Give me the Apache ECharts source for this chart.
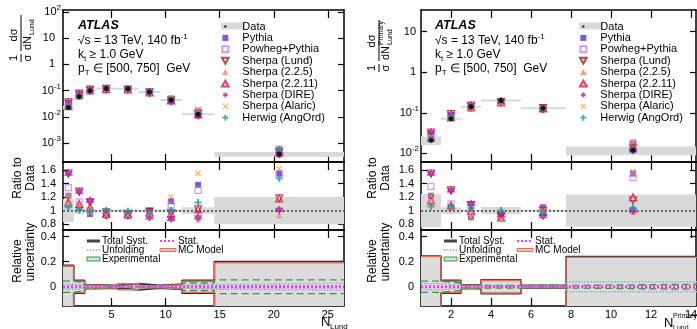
<!DOCTYPE html>
<html>
<head>
<meta charset="utf-8">
<script src="https://cdn.jsdelivr.net/npm/echarts@6/dist/echarts.min.js"></script>
<style>
html, body { margin: 0; padding: 0; background: #fff; }
#chart { width: 697px; height: 329px; }
</style>
</head>
<body>
<div id="chart"></div>
<script>
var FONT = 'Liberation Sans, Arial, Helvetica, sans-serif';

// ---- left: N_Lund ----
var edgesL = [0.5, 1.5, 2.5, 3.5, 5.5, 7.5, 9.5, 11.5, 14.5, 26.5];
var xL = [1, 2, 3, 4.5, 6.5, 8.5, 10.5, 13, 20.5];
var dataL = [0.023, 0.060, 0.099, 0.12, 0.118, 0.089, 0.044, 0.0125, 0.00038];
// ratio to data
var pythiaL  = [1.22, 1.05, 0.95, 0.95, 0.95, 1.00, 1.14, 1.38, 1.55];
var powhegL  = [1.34, 1.13, 1.00, 0.98, 0.96, 1.00, 1.08, 1.30, 1.55];
var lundL    = [1.55, 1.28, 1.12, 0.97, 0.94, 0.98, 0.96, 1.02, 1.18];
var s225L    = [1.15, 1.10, 1.05, 0.92, 0.93, 0.96, 0.90, 0.87, 0.93];
var s2211L   = [1.12, 1.10, 1.05, 0.95, 0.94, 0.97, 0.96, 1.02, 1.18];
var direL    = [1.55, 1.28, 1.15, 0.93, 0.93, 0.90, 0.88, 0.90, 1.01];
var alaricL  = [1.22, 1.05, 0.97, 0.93, 0.93, 0.95, 1.20, 1.55, 1.62];
var herwigL  = [1.05, 1.01, 0.99, 1.00, 0.99, 0.97, 1.00, 1.12, 1.48];
// relative uncertainties
var totL  = [0.17, 0.05, 0.015, 0.01, 0.025, 0.01, 0.02, 0.05, 0.2];
var mcL   = [0.165, 0.045, 0.012, 0.008, 0.024, 0.008, 0.017, 0.045, 0.19];
var expL  = [0.045, 0.03, 0.01, 0.005, 0.005, 0.005, 0.01, 0.03, 0.055];
var unfL  = [0.02, 0.01, 0.005, 0.005, 0.01, 0.005, 0.01, 0.02, 0.028];
var statL = [0.004, 0.002, 0.002, 0.002, 0.002, 0.003, 0.004, 0.006, 0.006];

// ---- right: N_Lund^Primary ----
var edgesR = [0.5, 1.5, 2.5, 3.5, 5.5, 7.75, 14.5];
var xR = [1, 2, 3, 4.5, 6.6, 11.1];
var dataR = [0.021, 0.071, 0.14, 0.20, 0.13, 0.0118];
var pythiaR  = [1.22, 1.05, 0.90, 0.92, 1.05, 1.55];
var powhegR  = [1.36, 1.10, 0.97, 0.90, 1.02, 1.49];
var lundR    = [1.55, 1.30, 1.08, 0.92, 1.00, 1.15];
var s225R    = [1.12, 1.08, 1.00, 0.88, 0.98, 0.98];
var s2211R   = [1.15, 1.08, 1.00, 0.90, 0.98, 1.20];
var direR    = [1.55, 1.30, 1.10, 0.93, 0.92, 1.00];
var alaricR  = [1.22, 1.05, 0.90, 0.87, 1.00, 1.58];
var herwigR  = [1.06, 1.07, 1.04, 1.00, 0.97, 1.04];
var totR  = [0.245, 0.05, 0.015, 0.055, 0.01, 0.24];
var mcR   = [0.24, 0.045, 0.012, 0.05, 0.008, 0.235];
var expR  = [0.045, 0.03, 0.01, 0.01, 0.01, 0.02];
var unfR  = [0.025, 0.01, 0.005, 0.005, 0.005, 0.04];
var statR = [0.004, 0.003, 0.003, 0.003, 0.004, 0.006];

var logTicksL = [0.001, 0.01, 0.1, 1, 10, 100];
var logTicksR = [0.01, 0.1, 1, 10];
var ratioTicks = [0.8, 1.0, 1.2, 1.4, 1.6];
var uncTicks = [0, 0.2, 0.4];
var xTicksL = [5, 10, 15, 20, 25];
var xTicksR = [2, 4, 6, 8, 10, 12, 14];

// marker shapes
var SQ = 'path://M0,0H10V10H0Z';
var TRI_UP = 'path://M5,0L10,9H0Z';
var TRI_DN = 'path://M0,0H10L5,9Z';
var STAR = 'path://M5,0L6.6,2.6H9.6L8.1,5L9.6,7.4H6.6L5,10L3.4,7.4H0.4L1.9,5L0.4,2.6H3.4Z';
var CROSS = 'path://M0,1.5L1.5,0L5,3.5L8.5,0L10,1.5L6.5,5L10,8.5L8.5,10L5,6.5L1.5,10L0,8.5L3.5,5Z';
var PLUS = 'path://M3.5,0H6.5V3.5H10V6.5H6.5V10H3.5V6.5H0V3.5H3.5Z';
var DOT = 'path://M0,0M10,10M5,3A2,2,0,1,1,5,7A2,2,0,1,1,5,3Z';

var models = [
  {name: 'Pythia', symbol: SQ, size: 6, color: '#5b30d0', open: false},
  {name: 'Powheg+Pythia', symbol: SQ, size: 6, color: '#c77dff', open: true},
  {name: 'Sherpa (Lund)', symbol: TRI_DN, size: 7, color: '#9c1f1f', open: true},
  {name: 'Sherpa (2.2.5)', symbol: TRI_UP, size: 6, color: '#f5826e', open: false},
  {name: 'Sherpa (2.2.11)', symbol: TRI_UP, size: 7, color: '#e3123f', open: true},
  {name: 'Sherpa (DIRE)', symbol: STAR, size: 9, color: '#b01aa0', open: false},
  {name: 'Sherpa (Alaric)', symbol: CROSS, size: 6, color: '#f7a43a', open: false},
  {name: 'Herwig (AngOrd)', symbol: PLUS, size: 7, color: '#159c9c', open: false}
];
var ratiosL = [pythiaL, powhegL, lundL, s225L, s2211L, direL, alaricL, herwigL];
var ratiosR = [pythiaR, powhegR, lundR, s225R, s2211R, direR, alaricR, herwigR];

var grids = [
  {left: 63, top: 10, width: 281, height: 152},
  {left: 63, top: 162, width: 281, height: 68},
  {left: 63, top: 230, width: 281, height: 76},
  {left: 421, top: 10, width: 275, height: 152},
  {left: 421, top: 162, width: 275, height: 68},
  {left: 421, top: 230, width: 275, height: 76}
];
grids.forEach(function (g) { g.outerBoundsMode = 'none'; });

function boxItem(color) {
  return function (params, api) {
    var a = api.coord([api.value(0), api.value(3)]);
    var b = api.coord([api.value(1), api.value(2)]);
    var y = a[1], h = b[1] - a[1];
    if (h < 2) { y = (a[1] + b[1]) / 2 - 1; h = 2; }
    var cs = params.coordSys;
    var r = echarts.graphic.clipRectByRect(
      {x: a[0], y: y, width: b[0] - a[0], height: h},
      {x: cs.x, y: cs.y, width: cs.width, height: cs.height});
    return r && {type: 'rect', shape: r, style: {fill: color}};
  };
}

function stepData(edges, vals, sign) {
  var out = [];
  for (var i = 0; i < vals.length; i++) out.push([edges[i], sign * vals[i]]);
  out.push([edges[edges.length - 1], sign * vals[vals.length - 1]]);
  return out;
}

function markerStyle(m) {
  return m.open ? {color: 'rgba(255,255,255,0)', borderColor: m.color, borderWidth: 1.2}
                : {color: m.color};
}

function xAxes(gi, max, ticks, showLabel) {
  var line = {onZero: false, lineStyle: {color: '#000', width: 1.5}};
  var tick = {inside: true, length: 8, customValues: ticks, lineStyle: {color: '#000', width: 1.2}};
  return [
    {type: 'value', gridIndex: gi, min: 0.5, max: max, position: 'bottom', axisLine: line, axisTick: tick,
     splitLine: {show: false},
     axisLabel: {show: showLabel, customValues: ticks, margin: 3, fontSize: 11, fontFamily: FONT, color: '#000'}},
    {type: 'value', gridIndex: gi, min: 0.5, max: max, position: 'top', axisLine: line, axisTick: tick,
     splitLine: {show: false}, axisLabel: {show: false, customValues: ticks}}
  ];
}

function yAxes(gi, base) {
  var line = {onZero: false, lineStyle: {color: '#000', width: 1.5}};
  var tick = {inside: true, length: 6, customValues: base.ticks, lineStyle: {color: '#000', width: 1.2}};
  var common = {type: base.type, gridIndex: gi, min: base.min, max: base.max, splitLine: {show: false}, axisLine: line, axisTick: tick};
  if (base.type === 'log') common.logBase = 10;
  var left = Object.assign({}, common, {position: 'left',
    axisLabel: {customValues: base.ticks, margin: base.margin, fontSize: 11, fontFamily: FONT, color: '#000',
      formatter: base.fmt, rich: base.rich}});
  var right = Object.assign({}, common, {position: 'right', axisLabel: {show: false, customValues: base.ticks}});
  return [left, right];
}

function powFmt(pad) {
  return {
    fmt: function (v) {
      var e = Math.round(Math.log10(v));
      if (e === 0) return '{p|1}';
      if (e === 1) return '{p|10}';
      return '{b|10}{s|' + e + '}';
    },
    rich: {
      p: {fontSize: 11, fontFamily: FONT, color: '#000', padding: [0, pad, 0, 0], lineHeight: 16},
      b: {fontSize: 11, fontFamily: FONT, color: '#000', lineHeight: 16},
      s: {fontSize: 8, fontFamily: FONT, color: '#000', verticalAlign: 'top', lineHeight: 9}
    }
  };
}
var ratioFmt = function (v) { return Math.abs(v - 1) < 1e-6 ? '1' : v.toFixed(1); };
var uncFmt = function (v) { return Math.abs(v) < 1e-6 ? '0' : v.toFixed(1); };

var pL = powFmt(6), pR = powFmt(3);
var xAxis = [].concat(
  xAxes(0, 26.5, xTicksL, false), xAxes(1, 26.5, xTicksL, false), xAxes(2, 26.5, xTicksL, true),
  xAxes(3, 14.25, xTicksR, false), xAxes(4, 14.25, xTicksR, false), xAxes(5, 14.25, xTicksR, true));
var yAxis = [].concat(
  yAxes(0, {type: 'log', min: Math.pow(10, -3.72), max: Math.pow(10, 2.076), ticks: logTicksL, margin: 2, fmt: pL.fmt, rich: pL.rich}),
  yAxes(1, {type: 'value', min: 0.713, max: 1.72, ticks: ratioTicks, margin: 7, fmt: ratioFmt}),
  yAxes(2, {type: 'value', min: -0.154, max: 0.4536, ticks: uncTicks, margin: 7, fmt: uncFmt}),
  yAxes(3, {type: 'log', min: Math.pow(10, -2.215), max: Math.pow(10, 1.536), ticks: logTicksR, margin: 2, fmt: pR.fmt, rich: pR.rich}),
  yAxes(4, {type: 'value', min: 0.713, max: 1.72, ticks: ratioTicks, margin: 7, fmt: ratioFmt}),
  yAxes(5, {type: 'value', min: -0.154, max: 0.4536, ticks: uncTicks, margin: 7, fmt: uncFmt}));

function sideSeries(g, edges, xs, data, ratios, tot, mc, exp, unf, stat) {
  var s = [];
  var bins = edges.slice(0, -1);
  // data uncertainty boxes, top panel
  s.push({type: 'custom', xAxisIndex: 2 * g, yAxisIndex: 2 * g, z: 1, silent: true,
    renderItem: boxItem('#d9d9d9'), encode: {x: [0, 1], y: [2, 3]},
    data: bins.map(function (e, i) { return [e, edges[i + 1], data[i] * (1 - tot[i]), data[i] * (1 + tot[i])]; })});
  // ratio boxes + line at 1
  s.push({type: 'custom', xAxisIndex: 2 * (g + 1), yAxisIndex: 2 * (g + 1), z: 1, silent: true,
    renderItem: boxItem('#d9d9d9'), encode: {x: [0, 1], y: [2, 3]},
    data: bins.map(function (e, i) { return [e, edges[i + 1], 1 - tot[i], 1 + tot[i]]; }),
    markLine: {silent: true, symbol: 'none', z: 2, label: {show: false}, animation: false,
      lineStyle: {color: '#666', type: [2, 2], width: 2}, data: [{yAxis: 1}]}});
  // uncertainty fill
  s.push({type: 'custom', xAxisIndex: 2 * (g + 2), yAxisIndex: 2 * (g + 2), z: 1, silent: true,
    renderItem: boxItem('#dcdcdc'), encode: {x: [0, 1], y: [2, 3]},
    data: bins.map(function (e, i) { return [e, edges[i + 1], -tot[i], tot[i]]; })});
  var uncLines = [
    {v: tot, color: '#333', width: 1.8, type: 'solid'},
    {v: mc, color: '#e8705f', width: 1.3, type: 'solid'},
    {v: exp, color: '#3a9a3a', width: 1.4, type: [7, 4]},
    {v: unf, color: '#7aaedc', width: 1.3, type: [1.5, 1.5]},
    {v: stat, color: '#ff33ff', width: 2, type: [2, 2]}
  ];
  uncLines.forEach(function (u, k) {
    [1, -1].forEach(function (sg) {
      s.push({type: 'line', xAxisIndex: 2 * (g + 2), yAxisIndex: 2 * (g + 2), step: 'end', z: 2 + k * 0.1,
        showSymbol: false, silent: true, lineStyle: {color: u.color, width: u.width, type: u.type},
        data: stepData(edges, u.v, sg)});
    });
  });
  // data points
  s.push({name: 'Data', type: 'scatter', xAxisIndex: 2 * g, yAxisIndex: 2 * g, z: 4,
    symbol: 'circle', symbolSize: 5, itemStyle: {color: '#000'},
    data: xs.map(function (x, i) { return [x, data[i]]; })});
  models.forEach(function (m, k) {
    var r = ratios[k];
    s.push({name: m.name, type: 'scatter', xAxisIndex: 2 * g, yAxisIndex: 2 * g, z: 3,
      symbol: m.symbol, symbolSize: m.size, itemStyle: markerStyle(m),
      data: xs.map(function (x, i) { return [x, data[i] * r[i]]; })});
    s.push({name: m.name, type: 'scatter', xAxisIndex: 2 * (g + 1), yAxisIndex: 2 * (g + 1), z: 3,
      symbol: m.symbol, symbolSize: m.size, itemStyle: markerStyle(m),
      data: xs.map(function (x, i) { return [x, r[i]]; })});
  });
  return s;
}

var series = [].concat(
  sideSeries(0, edgesL, xL, dataL, ratiosL, totL, mcL, expL, unfL, statL),
  sideSeries(3, edgesR, xR, dataR, ratiosR, totR, mcR, expR, unfR, statR));

var legendData = [{name: 'Data', icon: DOT}].concat(models.map(function (m) { return {name: m.name, icon: m.symbol}; }));
function mkLegend(left) {
  return {left: left, top: 21, orient: 'vertical', itemWidth: 24, itemHeight: 6, itemGap: 0.4,
    selectedMode: false, padding: 0, data: legendData,
    textStyle: {fontSize: 11, fontFamily: FONT, color: '#000', lineHeight: 10}};
}

// text helpers
var sub = {fontSize: 8, fontFamily: FONT, color: '#000', verticalAlign: 'bottom', lineHeight: 9};
var sup = {fontSize: 8, fontFamily: FONT, color: '#000', verticalAlign: 'top', lineHeight: 9};
function txt(x, y, text, size, extra) {
  return Object.assign({type: 'text', x: x, y: y, silent: true,
    style: {text: text, fontSize: size, fontFamily: FONT, fill: '#000', align: 'left', verticalAlign: 'middle',
      lineHeight: 16, rich: {sub: sub, sup: sup}}}, extra || {});
}
function atlasBlock(x) {
  return [
    txt(x, 26, 'ATLAS', 12, {style: {text: 'ATLAS', fontSize: 12.5, fontWeight: 'bold', fontStyle: 'italic', fontFamily: FONT, fill: '#000', verticalAlign: 'middle'}}),
    txt(x, 41, '√s = 13 TeV, 140 fb{sup|-1}', 12),
    txt(x, 55, 'k{sub|t} ≥ 1.0 GeV', 12),
    txt(x, 69, 'p{sub|T} ∈ [500, 750]  GeV', 12)
  ];
}
function vtext(x, y, text, size) {
  return {type: 'text', x: x, y: y, rotation: Math.PI / 2, silent: true,
    style: {text: text, fontSize: size, fontFamily: FONT, fill: '#000', align: 'center', verticalAlign: 'middle'}};
}
function hline(x1, x2, y, stroke, w, dash) {
  return {type: 'line', silent: true, shape: {x1: x1, y1: y, x2: x2, y2: y},
    style: {stroke: stroke, lineWidth: w, lineDash: dash || null}};
}
function rect(x, y, w, h, fill, stroke) {
  return {type: 'rect', silent: true, shape: {x: x, y: y, width: w, height: h},
    style: {fill: fill, stroke: stroke || null, lineWidth: 1}};
}
function uncLegend(c1, c2) {
  return [
    rect(c1, 239.5, 13, 3, '#444'), txt(c1 + 15, 241, 'Total Syst.', 10),
    hline(c1, c1 + 13, 250, '#7aaedc', 1.3, [1.5, 1.5]), txt(c1 + 15, 250, 'Unfolding', 10),
    rect(c1, 257, 13, 4, '#ddd', '#3a9a3a'), txt(c1 + 15, 259, 'Experimental', 10),
    hline(c2, c2 + 16, 241, '#ff33ff', 2, [2, 2]), txt(c2 + 18, 241, 'Stat.', 10),
    rect(c2, 248.5, 16, 3, '#f8c0b8', '#e8705f'), txt(c2 + 18, 250, 'MC Model', 10)
  ];
}
function ytitleTop(x0, y0, primary) {
  var kids = [
    {type: 'text', x: 4, y: 6, style: {text: '1', fontSize: 11, fontFamily: FONT, fill: '#000', align: 'center', verticalAlign: 'middle'}},
    {type: 'line', shape: {x1: 0, y1: 13, x2: 8, y2: 13}, style: {stroke: '#000', lineWidth: 1}},
    {type: 'text', x: 4, y: 20, style: {text: 'σ', fontSize: 11, fontFamily: FONT, fill: '#000', align: 'center', verticalAlign: 'middle'}},
    {type: 'text', x: primary ? 31 : 27, y: 6, style: {text: 'dσ', fontSize: 11, fontFamily: FONT, fill: '#000', align: 'center', verticalAlign: 'middle'}},
    {type: 'line', shape: {x1: 11, y1: 13, x2: primary ? 52 : 47, y2: 13}, style: {stroke: '#000', lineWidth: 1}},
    {type: 'text', x: 12, y: 20, style: {text: 'dN', fontSize: 11, fontFamily: FONT, fill: '#000', align: 'left', verticalAlign: 'middle'}},
    {type: 'text', x: 27, y: 24, style: {text: 'Lund', fontSize: 7, fontFamily: FONT, fill: '#000', align: 'left', verticalAlign: 'middle'}}
  ];
  if (primary) kids.push({type: 'text', x: 27, y: 15, style: {text: 'Primary', fontSize: 7, fontFamily: FONT, fill: '#000', align: 'left', verticalAlign: 'middle'}});
  return {type: 'group', x: x0, y: y0, rotation: Math.PI / 2, silent: true, children: kids};
}

var graphics = [
  rect(221, 22.5, 24, 7, '#d9d9d9'), rect(579, 22.5, 24, 7, '#d9d9d9'),
  ytitleTop(8, 62, false), ytitleTop(366, 72, true),
  vtext(18, 178, 'Ratio to', 12), vtext(31, 178, 'Data', 12),
  vtext(373, 178, 'Ratio to', 12), vtext(386, 178, 'Data', 12),
  vtext(18, 261, 'Relative', 12), vtext(31, 252, 'uncertainty', 12),
  vtext(373, 261, 'Relative', 12), vtext(386, 252, 'uncertainty', 12),
  txt(321, 322, 'N', 13), txt(330, 327, 'Lund', 8),
  txt(664, 323, 'N', 13), txt(673, 316, 'Primary', 7), txt(673, 328, 'Lund', 7)
].concat(atlasBlock(78), atlasBlock(435), uncLegend(87, 160), uncLegend(444, 517));

var chart = echarts.init(document.getElementById('chart'));
chart.setOption({
  animation: false,
  backgroundColor: '#fff',
  textStyle: {fontFamily: FONT},
  grid: grids,
  xAxis: xAxis,
  yAxis: yAxis,
  legend: [mkLegend(221), mkLegend(579)],
  graphic: {elements: graphics},
  series: series
});
</script>
</body>
</html>
